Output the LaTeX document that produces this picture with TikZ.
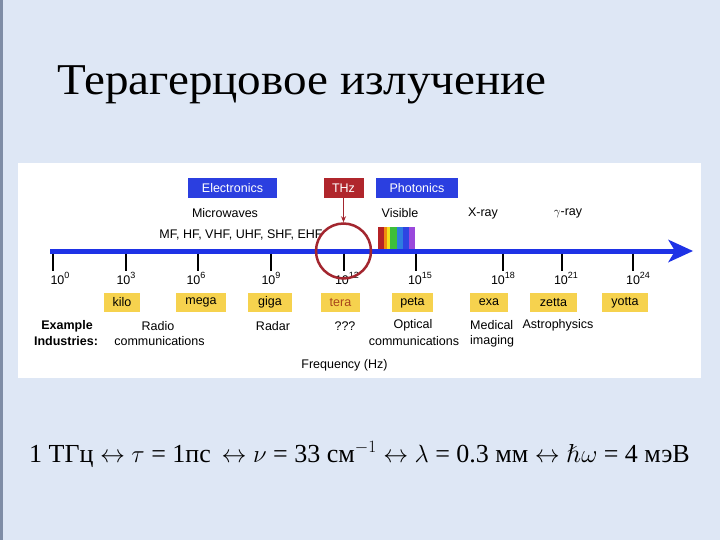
\documentclass[tikz,border=0pt]{standalone}
\usepackage[no-math]{fontspec}
\setmainfont{Liberation Serif}
\newfontfamily\lsans{Liberation Sans}
\newfontfamily\lmmathfont{Latin Modern Math}
\usetikzlibrary{arrows.meta}
\definecolor{bg}{HTML}{DEE7F5}
\definecolor{edge}{HTML}{7F8DA6}
\definecolor{ebox}{HTML}{2B3FE0}
\definecolor{thzred}{HTML}{B0262C}
\definecolor{circred}{HTML}{A3262F}
\definecolor{axisblue}{HTML}{1E32E6}
\definecolor{pref}{HTML}{F6D24E}
\definecolor{teraorange}{HTML}{A8461B}
\definecolor{vred}{HTML}{B52226}
\definecolor{vorange}{HTML}{F08A10}
\definecolor{vyellow}{HTML}{F2E21C}
\definecolor{vgreen}{HTML}{3DBE3A}
\definecolor{vcyan}{HTML}{2E7CE0}
\definecolor{vblue}{HTML}{2E44E2}
\definecolor{vpurple}{HTML}{9A48DC}
\newcommand{\sups}[1]{\raisebox{0.42em}{\fontsize{9}{9}\selectfont #1}}
\begin{document}
\begin{tikzpicture}[x=1pt,y=-1pt,
  lbl/.style={font=\lsans\fontsize{12.5}{14}\selectfont, inner sep=0pt},
  bandbox/.style={fill=ebox, text=white, font=\lsans\fontsize{12.5}{14}\selectfont, minimum height=20pt, inner sep=0pt},
  prefbox/.style={fill=pref, font=\lsans\fontsize{12.5}{14}\selectfont, minimum height=19pt, inner sep=0pt},
  tickline/.style={line width=1.3pt, black},
  ticklbl/.style={lbl, anchor=base},
  boldlbl/.style={lbl, font=\lsans\bfseries\fontsize{12.5}{14}\selectfont}
]
\useasboundingbox (0,0) rectangle (720,540);
\fill[bg] (0,0) rectangle (720,540);
\fill[edge] (0,0) rectangle (2.5,540);
\fill[white] (18,163) rectangle (701,378);

% title
\node[anchor=base west, inner sep=0pt, font=\fontsize{44}{50}\selectfont] (title) at (57,95) {\scalebox{1.07}[1]{Терагерцовое излучение}};

% band boxes
\node[bandbox, minimum width=89pt] (elec) at (232.5,188) {Electronics};
\node[bandbox, fill=thzred, minimum width=40pt] (thz) at (343.5,188) {THz};
\node[bandbox, minimum width=82pt] (phot) at (417,188) {Photonics};

% band labels
\node[lbl] (micro) at (225,213) {Microwaves};
\node[lbl] (mf) at (241,235) {MF, HF, VHF, UHF, SHF, EHF};
\node[lbl] (vis) at (400,213) {Visible};
\node[lbl] (xray) at (483,213) {X-ray};
\node[lbl] (gray) at (568,213) {$\gamma$-ray};

% visible spectrum
\fill[vred] (378,227) rectangle (384.3,249);
\fill[vorange] (384.3,227) rectangle (387,249);
\fill[vyellow] (387,227) rectangle (390.3,249);
\fill[vgreen] (390.3,227) rectangle (396.7,249);
\fill[vcyan] (396.7,227) rectangle (403.3,249);
\fill[vblue] (403.3,227) rectangle (409,249);
\fill[vpurple] (409,227) rectangle (415,249);

% axis
\coordinate (axs) at (50,251);
\coordinate (axe) at (676,251);
\draw[axisblue, line width=5pt] (axs) -- (axe);
\fill[axisblue] (693,251) -- (668,239.5) -- (675,251) -- (668,262.5) -- cycle;

% ticks
\foreach \tx/\lx/\ex [count=\i] in {53/60/0,126/126/3,198/196/6,271/271/9,344/347/12,416/420/15,503/503/18,562/566/21,633/638/24}{
  \coordinate (t\i) at (\tx,253.5);
  \coordinate (b\i) at (\tx,271);
  \draw[tickline] (t\i) -- (b\i);
  \node[ticklbl] (tl\i) at (\lx,284) {10\sups{\ex}};
}

% THz circle and arrow
\node[circle, draw=circred, line width=2.5pt, minimum size=55pt, inner sep=0pt] (circ) at (343.5,251) {};
\draw[circred, line width=1.2pt, -{Stealth[length=6pt,width=5pt]}] (thz.south) -- (circ.north);

% prefix boxes
\node[prefbox, minimum width=36pt] (kilo) at (122,302.5) {kilo};
\node[prefbox, minimum width=50pt] (mega) at (201,302.5) {mega};
\node[prefbox, minimum width=44pt] (giga) at (270,302.5) {giga};
\node[prefbox, minimum width=39pt, text=teraorange] (tera) at (340.5,302.5) {tera};
\node[prefbox, minimum width=41pt] (peta) at (412.5,302.5) {peta};
\node[prefbox, minimum width=38pt] (exa) at (489,302.5) {exa};
\node[prefbox, minimum width=47pt] (zetta) at (553.5,302.5) {zetta};
\node[prefbox, minimum width=46pt] (yotta) at (625,302.5) {yotta};

% industries
\node[boldlbl] (ex1) at (67,326) {Example};
\node[boldlbl] (ex2) at (66,341) {Industries:};
\node[lbl] (rad1) at (158,326) {Radio};
\node[lbl] (rad2) at (159.5,341) {communications};
\node[lbl] (radar) at (273,326) {Radar};
\node[lbl] (qqq) at (345,326) {???};
\node[lbl] (opt1) at (413,325) {Optical};
\node[lbl] (opt2) at (414,341) {communications};
\node[lbl, anchor=west] (med1) at (470,325) {Medical};
\node[lbl, anchor=west] (med2) at (470,341) {imaging};
\node[lbl] (astro) at (558,325) {Astrophysics};
\node[lbl] (freq) at (344.5,365) {Frequency (Hz)};

% bottom relation
\node[anchor=base, inner sep=0pt, font=\fontsize{26}{30}\selectfont] (rel) at (359.5,462)
  {1 ТГц $\leftrightarrow$ $\tau$ = 1пс \,$\leftrightarrow$ $\nu$ = 33 см$^{-1}$ $\leftrightarrow$ $\lambda$ = 0.3 мм $\leftrightarrow$ {\lmmathfont ℏ}$\omega$ = 4 мэВ};
\end{tikzpicture}
\end{document}
